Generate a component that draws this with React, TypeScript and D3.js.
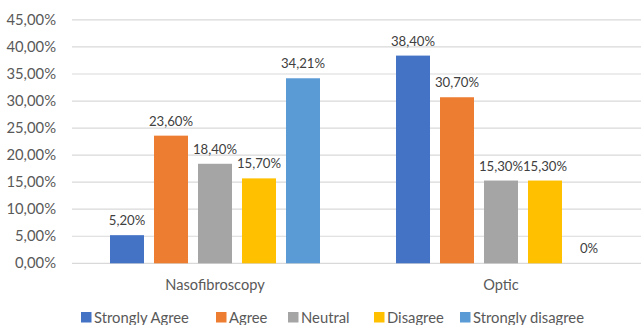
import React from "react";
import * as d3 from "d3";

// Survey responses per examination method (percent of respondents)
const methods = ["Nasofibroscopy", "Optic"];
const responses = ["Strongly Agree", "Agree", "Neutral", "Disagree", "Strongly disagree"];
const nasofibroscopy = [5.2, 23.6, 18.4, 15.7, 34.21];
const optic = [38.4, 30.7, 15.3, 15.3, 0];
const yTicks = [0, 5, 10, 15, 20, 25, 30, 35, 40, 45];
const colors = ["#4472C4", "#ED7D31", "#A5A5A5", "#FFC000", "#5B9BD5"];

const W = 641;
const H = 325;
const FONT = "Lato, 'Open Sans', sans-serif";
const TEXT = "#595959";

const fmtTick = (v: number) => v.toFixed(2).replace(".", ",") + "%";
const fmtValue = (v: number) => (v === 0 ? "0%" : v.toFixed(2).replace(".", ",") + "%");

export default function App() {
  const series = [nasofibroscopy, optic];

  const x0 = d3.scaleBand<string>().domain(methods).range([72, 644]).padding(0);
  const x1 = d3
    .scaleBand<string>()
    .domain(responses)
    .range([0, x0.bandwidth()])
    .paddingInner(10 / 44)
    .paddingOuter(38 / 44);
  const y = d3.scaleLinear().domain([0, 45]).range([263.3, 19.9]);

  return (
    <svg
      width={W}
      height={H}
      style={{ position: "fixed", left: 0, top: 0, background: "#fff" }}
      fontFamily={FONT}
    >
      <rect width={W} height={H} fill="#fff" />
      {/* gridlines and y tick labels */}
      {yTicks.map((t) => (
        <g key={t}>
          <line x1={72} x2={W} y1={y(t)} y2={y(t)} stroke="#D9D9D9" strokeWidth={1.2} />
          <text x={56} y={y(t)} dy="0.35em" textAnchor="end" fontSize={14.8} fill={TEXT}>
            {fmtTick(t)}
          </text>
        </g>
      ))}

      {/* grouped bars with value labels */}
      {methods.map((m, gi) => (
        <g key={m} transform={`translate(${x0(m)},0)`}>
          {responses.map((r, si) => {
            const v = series[gi][si];
            const bx = x1(r)!;
            const bw = x1.bandwidth();
            return (
              <g key={r}>
                <rect x={bx} y={y(v)} width={bw} height={y(0) - y(v)} fill={colors[si]} />
                <text
                  x={bx + bw / 2}
                  y={y(v) - 10}
                  textAnchor="middle"
                  fontSize={13.2}
                  fill="#404040"
                >
                  {fmtValue(v)}
                </text>
              </g>
            );
          })}
          <text
            x={x0.bandwidth() / 2}
            y={285}
            dy="0.35em"
            textAnchor="middle"
            fontSize={14.6}
            fill={TEXT}
          >
            {m}
          </text>
        </g>
      ))}

      {/* legend */}
      {responses.map((r, i) => {
        const lx = [81, 216, 288, 374, 460][i];
        return (
          <g key={r} transform={`translate(${lx},317)`}>
            <rect x={0} y={-5} width={10.5} height={10.5} fill={colors[i]} />
            <text x={13} y={0.5} dy="0.35em" fontSize={14.8} fill={TEXT}>
              {r}
            </text>
          </g>
        );
      })}
    </svg>
  );
}
